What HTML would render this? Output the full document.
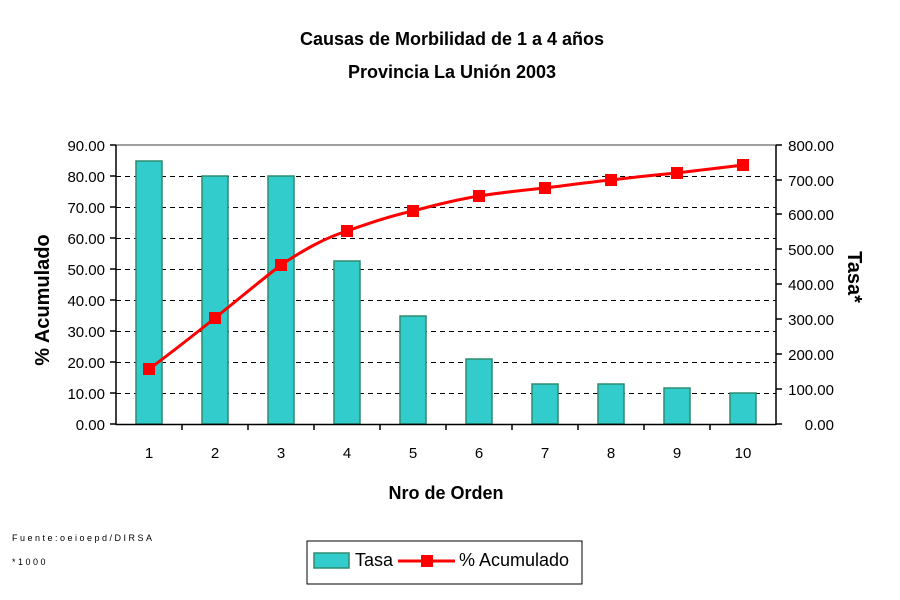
<!DOCTYPE html>
<html><head><meta charset="utf-8"><style>body{margin:0;background:#fff}svg{display:block}</style></head><body>
<svg width="900" height="600" xmlns="http://www.w3.org/2000/svg" font-family="Liberation Sans, Arial, sans-serif">
<rect width="900" height="600" fill="#fff"/>
<text x="452" y="45" text-anchor="middle" font-size="18" font-weight="bold">Causas de Morbilidad de 1 a 4  años</text>
<text x="452" y="78" text-anchor="middle" font-size="18" font-weight="bold">Provincia La Unión 2003</text>
<g stroke="#000" stroke-dasharray="5,4" stroke-width="1" shape-rendering="crispEdges">
<line x1="116" y1="176.5" x2="776" y2="176.5"/><line x1="116" y1="207.5" x2="776" y2="207.5"/>
<line x1="116" y1="238.5" x2="776" y2="238.5"/><line x1="116" y1="269.5" x2="776" y2="269.5"/>
<line x1="116" y1="300.5" x2="776" y2="300.5"/><line x1="116" y1="331.5" x2="776" y2="331.5"/>
<line x1="116" y1="362.5" x2="776" y2="362.5"/><line x1="116" y1="393.5" x2="776" y2="393.5"/>
</g>
<line x1="116" y1="145" x2="776" y2="145" stroke="#808080" stroke-width="1.5"/>
<g fill="#33CCCC" stroke="#2E8B6E" stroke-width="1.5">
<rect x="136" y="161" width="26" height="263"/>
<rect x="202" y="176" width="26" height="248"/>
<rect x="268" y="176" width="26" height="248"/>
<rect x="334" y="261" width="26" height="163"/>
<rect x="400" y="316" width="26" height="108"/>
<rect x="466" y="359" width="26" height="65"/>
<rect x="532" y="384" width="26" height="40"/>
<rect x="598" y="384" width="26" height="40"/>
<rect x="664" y="388" width="26" height="36"/>
<rect x="730" y="393" width="26" height="31"/>
</g>
<g stroke="#000" stroke-width="1.5">
<line x1="116" y1="145" x2="116" y2="425"/><line x1="776" y1="145" x2="776" y2="425"/>
<line x1="116" y1="424.5" x2="776" y2="424.5"/>
<line x1="110" y1="145" x2="116" y2="145"/><line x1="110" y1="176" x2="116" y2="176"/><line x1="110" y1="207" x2="116" y2="207"/><line x1="110" y1="238" x2="116" y2="238"/><line x1="110" y1="269" x2="116" y2="269"/><line x1="110" y1="300" x2="116" y2="300"/><line x1="110" y1="331" x2="116" y2="331"/><line x1="110" y1="362" x2="116" y2="362"/><line x1="110" y1="393" x2="116" y2="393"/><line x1="110" y1="424" x2="116" y2="424"/>
<line x1="776" y1="145" x2="782" y2="145"/><line x1="776" y1="180" x2="782" y2="180"/><line x1="776" y1="214" x2="782" y2="214"/><line x1="776" y1="249" x2="782" y2="249"/><line x1="776" y1="284" x2="782" y2="284"/><line x1="776" y1="319" x2="782" y2="319"/><line x1="776" y1="354" x2="782" y2="354"/><line x1="776" y1="389" x2="782" y2="389"/><line x1="776" y1="424" x2="782" y2="424"/>
<line x1="182" y1="424" x2="182" y2="430"/><line x1="248" y1="424" x2="248" y2="430"/><line x1="314" y1="424" x2="314" y2="430"/><line x1="380" y1="424" x2="380" y2="430"/><line x1="446" y1="424" x2="446" y2="430"/><line x1="512" y1="424" x2="512" y2="430"/><line x1="578" y1="424" x2="578" y2="430"/><line x1="644" y1="424" x2="644" y2="430"/><line x1="710" y1="424" x2="710" y2="430"/>
</g>
<path d="M149,369 C175,350 195,334 215,318 C240,298 260,281 281,265 C305,249 325,238 347,231 C370,223 390,216 413,211 C435,205 455,200 479,196 C505,192 525,190 545,188 C570,185 590,182 611,180 C635,177 655,175 677,173 C700,170 720,168 743,165" fill="none" stroke="#FF0000" stroke-width="3"/>
<g fill="#FF0000">
<rect x="143" y="363" width="12" height="12"/><rect x="209" y="312" width="12" height="12"/><rect x="275" y="259" width="12" height="12"/><rect x="341" y="225" width="12" height="12"/><rect x="407" y="205" width="12" height="12"/><rect x="473" y="190" width="12" height="12"/><rect x="539" y="182" width="12" height="12"/><rect x="605" y="174" width="12" height="12"/><rect x="671" y="167" width="12" height="12"/><rect x="737" y="159" width="12" height="12"/>
</g>
<g font-size="15" text-anchor="end">
<text x="105" y="151">90.00</text><text x="105" y="182">80.00</text><text x="105" y="213">70.00</text><text x="105" y="244">60.00</text><text x="105" y="275">50.00</text><text x="105" y="306">40.00</text><text x="105" y="337">30.00</text><text x="105" y="368">20.00</text><text x="105" y="399">10.00</text><text x="105" y="430">0.00</text>
</g>
<g font-size="15" text-anchor="end">
<text x="834" y="151">800.00</text><text x="834" y="186">700.00</text><text x="834" y="220">600.00</text><text x="834" y="255">500.00</text><text x="834" y="290">400.00</text><text x="834" y="325">300.00</text><text x="834" y="360">200.00</text><text x="834" y="395">100.00</text><text x="834" y="430">0.00</text>
</g>
<g font-size="15" text-anchor="middle">
<text x="149" y="458">1</text><text x="215" y="458">2</text><text x="281" y="458">3</text><text x="347" y="458">4</text><text x="413" y="458">5</text><text x="479" y="458">6</text><text x="545" y="458">7</text><text x="611" y="458">8</text><text x="677" y="458">9</text><text x="743" y="458">10</text>
</g>
<text x="446" y="499" text-anchor="middle" font-size="18" font-weight="bold">Nro de Orden</text>
<text transform="translate(49,300) rotate(-90)" text-anchor="middle" font-size="20" font-weight="bold">% Acumulado</text>
<text transform="translate(848,277) rotate(90)" text-anchor="middle" font-size="20" font-weight="bold">Tasa*</text>
<text x="12" y="541" font-size="9" letter-spacing="2.5">Fuente:oeioepd/DIRSA</text>
<text x="12" y="565" font-size="9" letter-spacing="2.5">*1000</text>
<rect x="307" y="541" width="275" height="43" fill="#fff" stroke="#000" stroke-width="1"/>
<rect x="314" y="553" width="35" height="15" fill="#33CCCC" stroke="#2E8B6E" stroke-width="1.5"/>
<text x="355" y="566" font-size="18">Tasa</text>
<line x1="398" y1="561" x2="455" y2="561" stroke="#FF0000" stroke-width="3"/>
<rect x="421" y="555" width="12" height="12" fill="#FF0000"/>
<text x="459" y="566" font-size="18">% Acumulado</text>
</svg>
</body></html>
